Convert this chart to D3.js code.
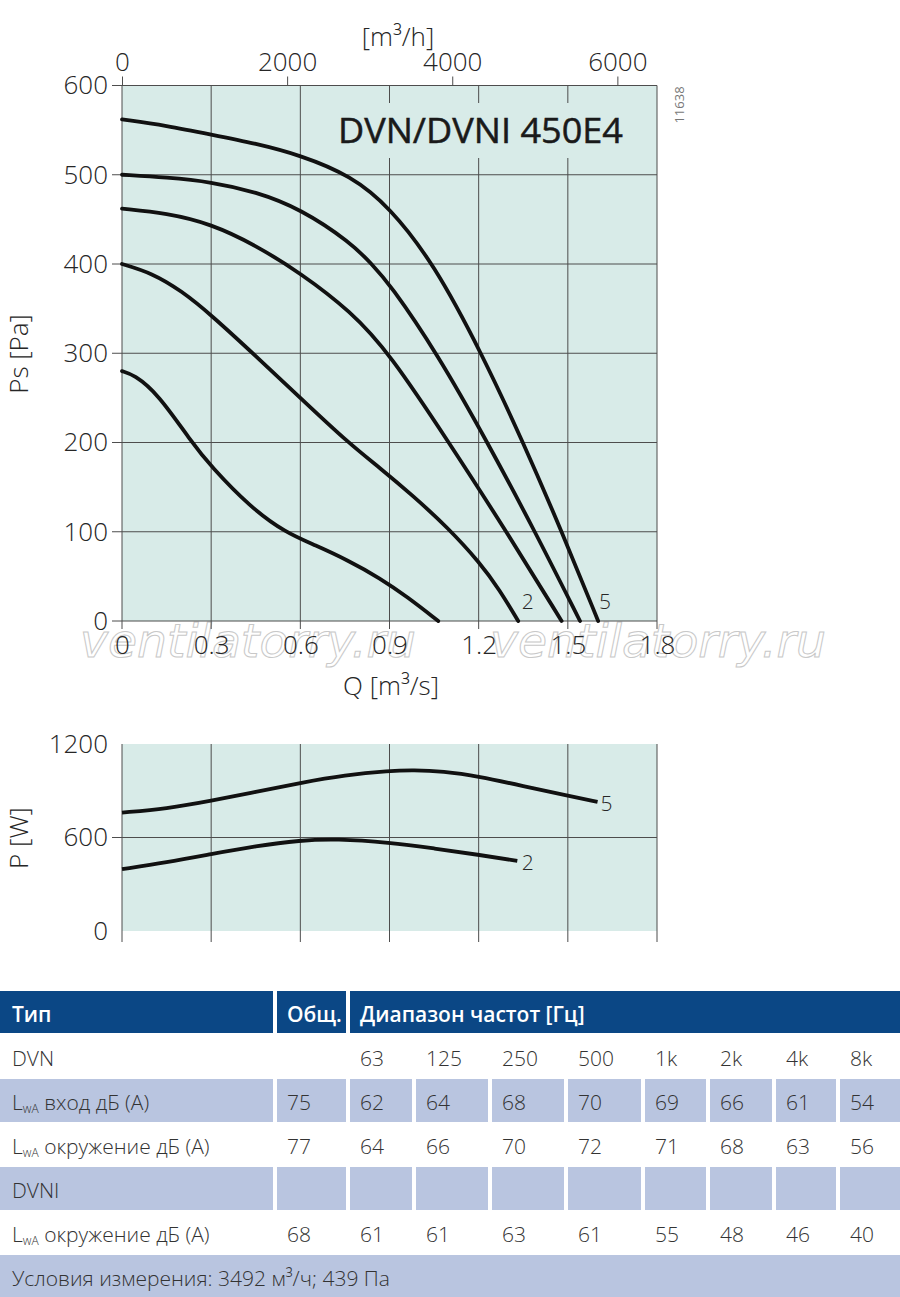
<!DOCTYPE html>
<html><head><meta charset="utf-8">
<script src="https://cdn.jsdelivr.net/npm/d3@7/dist/d3.min.js"></script>
<style>
body{margin:0;background:#fff;}
svg{display:block;font-family:"Open Sans","Noto Sans",sans-serif;}
</style></head>
<body>
<svg id="c" width="900" height="1297"></svg>
<script>
// ---------- data ----------
const qTicks = [0, 0.3, 0.6, 0.9, 1.2, 1.5, 1.8];
const qTickLabels = ["0", "0.3", "0.6", "0.9", "1.2", "1.5", "1.8"];
const psTicks = [0, 100, 200, 300, 400, 500, 600];
const flowTicks = [0, 2000, 4000, 6000];
const pTicks = [0, 600, 1200];

const psSpeed1 = [[0,280],[0.04,276],[0.12,255],[0.235,200],[0.30,173],[0.43,128],[0.55,99],[0.65,85],[0.76,68],[0.868,48],[0.96,27],[1.064,0]];
const psSpeed2 = [[0,400],[0.1,390],[0.2,370],[0.3,343],[0.45,297],[0.6,250],[0.76,200],[0.87,171],[0.98,140],[1.095,105],[1.205,65],[1.27,35],[1.333,0]];
const psSpeed3 = [[0,462],[0.15,457],[0.3,445],[0.45,421],[0.6,390],[0.77,347],[0.9,300],[1.1,200],[1.294,100],[1.479,0]];
const psSpeed4 = [[0,500],[0.15,497],[0.3,492],[0.45,481],[0.6,462],[0.77,424],[0.84,400],[0.9,378],[1.06,300],[1.23,200],[1.39,100],[1.541,0]];
const psSpeed5 = [[0,562],[0.15,555],[0.3,545],[0.45,535],[0.6,522],[0.77,499],[0.9,464],[1.05,400],[1.21,300],[1.35,200],[1.48,100],[1.602,0]];

const powSpeed2 = [[0,397],[0.15,440],[0.3,493],[0.45,545],[0.6,582],[0.72,592],[0.9,568],[1.05,530],[1.2,489],[1.33,450]];
const powSpeed5 = [[0,760],[0.15,785],[0.3,835],[0.45,893],[0.6,950],[0.75,1000],[0.9,1028],[0.98,1033],[1.08,1025],[1.2,992],[1.35,930],[1.5,868],[1.6,828]];

const title = "DVN/DVNI 450E4";
const tableHeader = ["Тип", "Общ.", "Диапазон частот [Гц]"];
const freqLabels = ["63","125","250","500","1k","2k","4k","8k"];
const rowDvnInlet = ["75","62","64","68","70","69","66","61","54"];
const rowDvnSurround = ["77","64","66","70","72","71","68","63","56"];
const rowDvniSurround = ["68","61","61","63","61","55","48","46","40"];
const measureNote = "Условия измерения: 3492 м³/ч; 439 Па";

// ---------- drawing ----------
const svg = d3.select("#c");
const BG = "#d8ebe8", GRID = "#4d4d4d", TXT = "#262626";

const x = d3.scaleLinear().domain([0, 1.8]).range([122, 657]);
const xh = d3.scaleLinear().domain([0, 1.8 * 3600]).range([122, 657]);
const y = d3.scaleLinear().domain([0, 600]).range([621, 85.5]);
const yP = d3.scaleLinear().domain([0, 1200]).range([931, 744]);
const fmt = d3.format("d");

// watermark (behind)
["ventilatorry.ru","ventilatorry.ru"].forEach((t,i)=>{
  svg.append("text").attr("x", i ? 490 : 80).attr("y", 657)
    .attr("font-size", 46).attr("font-style","italic").attr("font-family","DejaVu Sans")
    .attr("textLength", 336).attr("lengthAdjust","spacingAndGlyphs")
    .attr("fill","none").attr("stroke","#c8c8c8").attr("stroke-width",1).text(t);
});

function panel(yScale, hTicks, gridVals, bottomTickLen){
  const g = svg.append("g");
  const [y0, y1] = yScale.range();
  g.append("rect").attr("x", x(0)).attr("y", y1).attr("width", x(1.8)-x(0)).attr("height", y0-y1).attr("fill", BG);
  g.selectAll(".vg").data(qTicks).join("line")
    .attr("x1", d=>x(d)).attr("x2", d=>x(d)).attr("y1", y1).attr("y2", y0 + bottomTickLen)
    .attr("stroke", GRID).attr("stroke-width", 1);
  g.selectAll(".hg").data(gridVals).join("line")
    .attr("x1", x(0)-10).attr("x2", x(1.8)).attr("y1", d=>yScale(d)).attr("y2", d=>yScale(d))
    .attr("stroke", GRID).attr("stroke-width", 1);
  const ax = d3.axisLeft(yScale).tickValues(hTicks).tickFormat(fmt).tickSize(0).tickPadding(14);
  const ga = g.append("g").attr("transform", `translate(${x(0)},0)`).call(ax);
  ga.select(".domain").remove();
  ga.selectAll("text").attr("font-size", 26).attr("font-weight", 300).attr("fill", TXT).attr("font-family","Open Sans");
  return g;
}

// top panel
const topPanel = panel(y, psTicks, psTicks, 8);
topPanel.append("rect").attr("x", 328).attr("y", 103).attr("width", 312).attr("height", 55).attr("fill", BG);
topPanel.append("text").attr("x", 338).attr("y", 143).attr("font-size", 35).attr("font-weight", 500)
  .attr("fill", "#1a1a1a").attr("stroke", "#1a1a1a").attr("stroke-width", 0.5)
  .attr("textLength", 285).attr("lengthAdjust","spacingAndGlyphs").text(title);

// bottom Q axis labels
const bx = d3.axisBottom(x).tickValues(qTicks).tickFormat((d,i)=>qTickLabels[i]).tickSize(0).tickPadding(15);
const gbx = svg.append("g").attr("transform", `translate(0,621)`).call(bx);
gbx.select(".domain").remove();
gbx.selectAll("text").attr("font-size", 26).attr("font-weight", 300).attr("fill", TXT).attr("font-family","Open Sans");

// top flow axis
const tx = d3.axisTop(xh).tickValues(flowTicks).tickFormat(fmt).tickSize(9).tickPadding(6);
const gtx = svg.append("g").attr("transform", `translate(0,85.5)`).call(tx);
gtx.select(".domain").remove();
gtx.selectAll("line").attr("stroke", GRID);
gtx.selectAll("text").attr("font-size", 26).attr("font-weight", 300).attr("fill", TXT).attr("font-family","Open Sans");

svg.append("text").attr("x", 398).attr("y", 46).attr("text-anchor","middle").attr("font-size", 26).attr("font-weight",300).attr("fill",TXT).text("[m³/h]");
svg.append("text").attr("x", 391).attr("y", 695).attr("text-anchor","middle").attr("font-size", 26).attr("font-weight",300).attr("fill",TXT).text("Q [m³/s]");
svg.append("text").attr("transform","translate(28,354) rotate(-90)").attr("text-anchor","middle").attr("font-size", 26).attr("font-weight",300).attr("fill",TXT).text("Ps [Pa]");
svg.append("text").attr("transform","translate(684,105) rotate(-90)").attr("text-anchor","middle").attr("font-size", 13).attr("fill","#777").text("11638");

const lineTop = d3.line().x(d=>x(d[0])).y(d=>y(d[1])).curve(d3.curveBasis);
[psSpeed1, psSpeed2, psSpeed3, psSpeed4, psSpeed5].forEach(c=>{
  svg.append("path").attr("d", lineTop(c)).attr("fill","none").attr("stroke","#111").attr("stroke-width",3.8).attr("stroke-linecap","round");
});
svg.append("text").attr("x", x(1.345)).attr("y", 609).attr("font-size", 21).attr("font-weight",300).attr("fill",TXT).text("2");
svg.append("text").attr("x", x(1.605)).attr("y", 609).attr("font-size", 21).attr("font-weight",300).attr("fill",TXT).text("5");

// bottom panel
const botPanel = panel(yP, pTicks, [600], 11);
svg.append("text").attr("transform","translate(28,838) rotate(-90)").attr("text-anchor","middle").attr("font-size", 26).attr("font-weight",300).attr("fill",TXT).text("P [W]");
const lineBot = d3.line().x(d=>x(d[0])).y(d=>yP(d[1])).curve(d3.curveBasis);
[powSpeed2, powSpeed5].forEach(c=>{
  svg.append("path").attr("d", lineBot(c)).attr("fill","none").attr("stroke","#111").attr("stroke-width",3.8);
});
svg.append("text").attr("x", x(1.345)).attr("y", 870).attr("font-size", 21).attr("font-weight",300).attr("fill",TXT).text("2");
svg.append("text").attr("x", x(1.61)).attr("y", 811).attr("font-size", 21).attr("font-weight",300).attr("fill",TXT).text("5");

// ---------- table ----------
const HEAD = "#0b4785", LIGHT = "#b9c5e0";
const colStart = [0, 277, 350, 416, 492, 568, 645, 710, 776, 840];
const colEnd   = [273, 346, 412, 488, 564, 641, 706, 772, 836, 900];
const rowTop = [991, 1034, 1078, 1122, 1166, 1210, 1254];
const rowBot = [1033, 1078, 1122, 1166, 1210, 1253, 1297];
const tg = svg.append("g");

const headCells = [[0,273],[277,346],[350,900]];
tg.selectAll(".hc").data(headCells).join("rect")
  .attr("x", d=>d[0]).attr("y", rowTop[0]).attr("width", d=>d[1]-d[0]).attr("height", rowBot[0]-rowTop[0]).attr("fill", HEAD);
tg.selectAll(".ht").data(tableHeader).join("text")
  .attr("x", (d,i)=>headCells[i][0] + (i===0?12:10)).attr("y", 1022)
  .attr("font-size", 21).attr("font-weight", 600).attr("fill","#fff").text(d=>d);

function lightRow(r){
  tg.selectAll(null).data(colStart).join("rect")
    .attr("x", (d)=>d).attr("y", rowTop[r]+1).attr("width", (d,i)=>colEnd[i]-d).attr("height", rowBot[r]-rowTop[r]-1).attr("fill", LIGHT);
}
lightRow(2); lightRow(4);
tg.append("rect").attr("x",0).attr("y",rowTop[6]+1).attr("width",900).attr("height",rowBot[6]-rowTop[6]-1).attr("fill",LIGHT);

function cellText(r, c, t){
  tg.append("text").attr("x", c===0 ? 12 : colStart[c]+10).attr("y", rowTop[r]+32)
    .attr("font-size", 21).attr("font-weight", 300).attr("fill", "#333").text(t);
}
function lwaLabel(r, rest){
  const t = tg.append("text").attr("x", 12).attr("y", rowTop[r]+32).attr("font-size", 21).attr("font-weight",300).attr("fill","#333");
  t.append("tspan").text("L");
  t.append("tspan").attr("font-size", 12).attr("dy", 3).text("wA");
  t.append("tspan").attr("dy", -3).text(" " + rest);
}
cellText(1, 0, "DVN");
freqLabels.forEach((f,i)=>cellText(1, i+2, f));
lwaLabel(2, "вход дБ (A)");
rowDvnInlet.forEach((v,i)=>cellText(2, i+1, v));
lwaLabel(3, "окружение дБ (A)");
rowDvnSurround.forEach((v,i)=>cellText(3, i+1, v));
cellText(4, 0, "DVNI");
lwaLabel(5, "окружение дБ (A)");
rowDvniSurround.forEach((v,i)=>cellText(5, i+1, v));
tg.append("text").attr("x", 12).attr("y", rowTop[6]+32).attr("font-size", 21).attr("font-weight",300).attr("fill","#333").text(measureNote);
</script>
</body></html>
